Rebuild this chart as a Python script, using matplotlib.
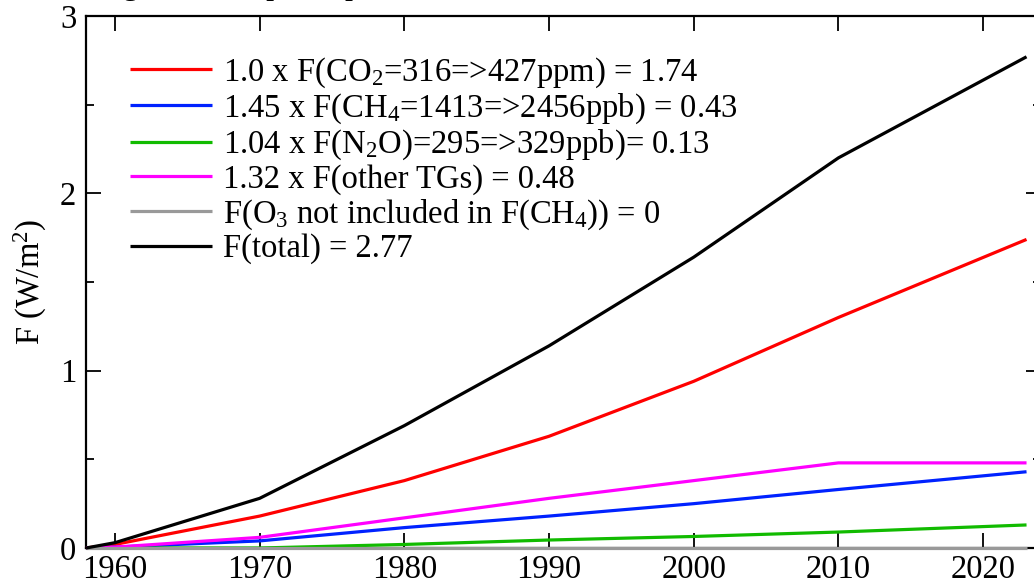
import matplotlib
matplotlib.use("Agg")
import matplotlib.pyplot as plt
from matplotlib.ticker import MultipleLocator

# valores (W/m2)
anos = [1958, 1960, 1970, 1980, 1990, 2000, 2010, 2023]
co2 = [0.0, 0.02, 0.18, 0.38, 0.63, 0.94, 1.30, 1.74]
ch4 = [0.0, 0.005, 0.04, 0.115, 0.18, 0.25, 0.33, 0.43]
n2o = [0.0, 0.0, 0.0, 0.02, 0.045, 0.065, 0.09, 0.13]
outros = [0.0, 0.005, 0.06, 0.17, 0.28, 0.38, 0.48, 0.48]
o3 = [0.0, 0.0, 0.0, 0.0, 0.0, 0.0, 0.0, 0.0]
total = [0.0, 0.03, 0.28, 0.69, 1.14, 1.64, 2.20, 2.77]

rotulos = [
    "1.0 x F(CO$_2$=316=>427ppm) = 1.74",
    "1.45 x F(CH$_4$=1413=>2456ppb) = 0.43",
    "1.04 x F(N$_2$O)=295=>329ppb)= 0.13",
    "1.32 x F(other TGs) = 0.48",
    "F(O$_3$ not included in F(CH$_4$)) = 0",
    "F(total) = 2.77",
]
cores = ["#ff0000", "#0022ff", "#11bb00", "#ff00ff", "#999999", "#000000"]

plt.rcParams["font.family"] = ["Liberation Serif", "DejaVu Serif"]
plt.rcParams["mathtext.fontset"] = "custom"
plt.rcParams["mathtext.rm"] = "Liberation Serif"
plt.rcParams["mathtext.it"] = "Liberation Serif:italic"
plt.rcParams["mathtext.default"] = "regular"

fs = 23.5

fig = plt.figure(figsize=(10.34, 5.84), dpi=100)
ax = fig.add_axes([86 / 1034, 36 / 584, (1041 - 86) / 1034, (548 - 16) / 584])

series = [co2, ch4, n2o, outros, o3, total]
ordem = [4, 2, 1, 3, 0, 5]
linhas = [None] * 6
for i in ordem:
    linhas[i], = ax.plot(anos, series[i], color=cores[i], lw=2.3,
                         solid_capstyle="butt", clip_on=False, zorder=3 + i)

ax.set_xlim(1958, 2024)
ax.set_ylim(0, 3)
ax.xaxis.set_major_locator(MultipleLocator(10))
ax.yaxis.set_major_locator(MultipleLocator(1))
ax.yaxis.set_minor_locator(MultipleLocator(0.5))
ax.tick_params(which="both", direction="in", top=True, right=True,
               labelsize=fs, width=1.3)
ax.tick_params(which="major", length=10.5)
ax.tick_params(which="minor", length=6)
ax.tick_params(axis="y", pad=7)
ax.tick_params(axis="x", pad=5)
for s in ax.spines.values():
    s.set_linewidth(1.6)

ax.set_ylabel("F (W/m$^2$)", fontsize=fs, labelpad=8)

ax.legend(linhas, rotulos, loc="upper left", frameon=False, fontsize=fs,
          handlelength=2.5, handletextpad=0.34, labelspacing=0.06,
          borderaxespad=0, bbox_to_anchor=(31 / 955, 1 - 26 / 532))

# titulo cortado na borda superior, como no original
fig.text(-74 / 1034, 1 + 6 / 584, "Climate Forcing from simple expressions",
         ha="left", va="baseline", fontsize=fs)

fig.savefig("out.png", dpi=100)
